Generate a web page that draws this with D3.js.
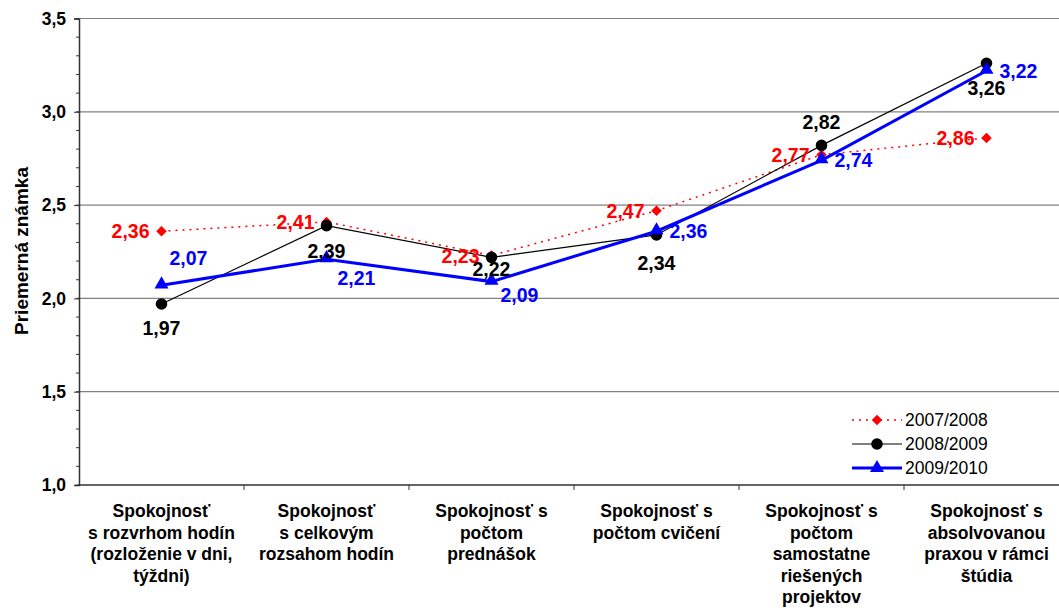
<!DOCTYPE html>
<html>
<head>
<meta charset="utf-8">
<script src="https://cdn.jsdelivr.net/npm/d3@7"></script>
<style>
  body { margin: 0; background: #fff; }
  svg { display: block; font-family: "Liberation Sans", Arial, sans-serif; }
</style>
</head>
<body>
<div id="vizArea"></div>
<script>
// data
const categories = [
  "Spokojnosť\ns rozvrhom hodín\n(rozloženie v dni,\ntýždni)",
  "Spokojnosť\ns celkovým\nrozsahom hodín",
  "Spokojnosť s\npočtom\nprednášok",
  "Spokojnosť s\npočtom cvičení",
  "Spokojnosť s\npočtom\nsamostatne\nriešených\nprojektov",
  "Spokojnosť s\nabsolvovanou\npraxou v rámci\nštúdia"
]
const seriesNames = ["2007/2008", "2008/2009", "2009/2010"]
const values2007 = [2.36, 2.41, 2.23, 2.47, 2.77, 2.86]
const values2008 = [1.97, 2.39, 2.22, 2.34, 2.82, 3.26]
const values2009 = [2.07, 2.21, 2.09, 2.36, 2.74, 3.22]
const yTicks = [1.0, 1.5, 2.0, 2.5, 3.0, 3.5]

// label placement (pixels from the point), not data
const off2007 = [[-12, 0], [-12, 0], [-12, 0], [-12, 0], [-12, 0], [-12, 0]]
const off2008 = [[0, 24], [0, 25], [0, 12], [0, 28], [0, -23], [0, 25]]
const off2009 = [[27, -27], [30, 19], [28, 13], [13, 0], [13, 0], [13, 0]]

const W = 1059, H = 608
const mLeft = 79, mTop = 18.5, mBottom = 485
const bandW = 165

const svg = d3.select("#vizArea").append("svg")
  .attr("width", W).attr("height", H)

const x = d3.scaleBand().domain(categories).range([mLeft, mLeft + bandW * categories.length])
const y = d3.scaleLinear().domain([1, 3.5]).range([mBottom, mTop])
const cx = d => x(d) + x.bandwidth() / 2
const fmt = v => d3.format(".2f")(v).replace(".", ",")

// gridlines
svg.append("g").selectAll("line")
  .data(yTicks.filter(t => t > 1))
  .enter().append("line")
  .attr("x1", mLeft).attr("x2", W)
  .attr("y1", d => y(d)).attr("y2", d => y(d))
  .attr("stroke", "#808080").attr("stroke-width", 1.2)

// y axis with minor ticks
const minor = d3.range(10, 36).map(d => d / 10)
svg.append("g").selectAll("line")
  .data(minor)
  .enter().append("line")
  .attr("x1", mLeft - 3).attr("x2", mLeft)
  .attr("y1", d => y(d)).attr("y2", d => y(d))
  .attr("stroke", "#333")

const yAxis = svg.append("g")
  .attr("transform", `translate(${mLeft},0)`)
  .call(d3.axisLeft(y).tickValues(yTicks).tickSize(5).tickFormat(d => d3.format(".1f")(d).replace(".", ",")))
yAxis.select(".domain").attr("stroke", "#333").attr("stroke-width", 1.5)
yAxis.selectAll(".tick line").attr("stroke", "#333")
yAxis.selectAll("text")
  .attr("font-size", 17.5).attr("font-weight", "bold").attr("fill", "#000")
  .attr("x", -13).attr("font-family", "Liberation Sans, Arial, sans-serif")

svg.append("text")
  .attr("transform", `translate(28,251) rotate(-90)`)
  .attr("text-anchor", "middle")
  .attr("font-size", 19).attr("font-weight", "bold")
  .text("Priemerná známka")

// x axis
svg.append("line")
  .attr("x1", mLeft).attr("x2", W)
  .attr("y1", mBottom).attr("y2", mBottom)
  .attr("stroke", "#333").attr("stroke-width", 1.5)

svg.append("g").selectAll("line")
  .data(categories.slice(1))
  .enter().append("line")
  .attr("x1", d => x(d)).attr("x2", d => x(d))
  .attr("y1", mBottom).attr("y2", mBottom + 5)
  .attr("stroke", "#333")

const catLabels = svg.append("g").selectAll("text")
  .data(categories)
  .enter().append("text")
  .attr("text-anchor", "middle")
  .attr("font-size", 17.5).attr("font-weight", "bold")
  .attr("x", d => cx(d))
  .attr("y", 517)
catLabels.selectAll("tspan")
  .data(d => d.split("\n").map(t => ({ t, c: d })))
  .enter().append("tspan")
  .attr("x", d => cx(d.c))
  .attr("dy", (d, i) => i === 0 ? 0 : 21.5)
  .text(d => d.t)

// series
const series = [
  { name: seriesNames[0], vals: values2007, color: "#ff0000", width: 1.5, dash: "2,5", shape: d3.symbolDiamond2, size: 70, off: off2007, anchor: "end" },
  { name: seriesNames[1], vals: values2008, color: "#000000", width: 1.2, dash: null, shape: d3.symbolCircle, size: 105, off: off2008, anchor: "middle" },
  { name: seriesNames[2], vals: values2009, color: "#0000ff", width: 3, dash: null, shape: d3.symbolTriangle, size: 85, off: off2009, anchor: null }
]

const line = d3.line().x(d => cx(d.c)).y(d => y(d.v))

series.forEach(s => {
  const pts = categories.map((c, i) => ({ c, v: s.vals[i], i }))
  svg.append("path")
    .datum(pts)
    .attr("d", line)
    .attr("fill", "none")
    .attr("stroke", s.color)
    .attr("stroke-width", s.width)
    .attr("stroke-dasharray", s.dash)
  svg.append("g").selectAll("path")
    .data(pts)
    .enter().append("path")
    .attr("d", d3.symbol().type(s.shape).size(s.size))
    .attr("transform", d => `translate(${cx(d.c)},${y(d.v) - (s.shape === d3.symbolTriangle ? 1 : 0)})`)
    .attr("fill", s.color)
})

series.forEach(s => {
  const pts = categories.map((c, i) => ({ c, v: s.vals[i], i }))
  svg.append("g").selectAll("text")
    .data(pts)
    .enter().append("text")
    .attr("x", d => cx(d.c) + s.off[d.i][0])
    .attr("y", d => y(d.v) + s.off[d.i][1])
    .attr("dy", "0.36em")
    .attr("text-anchor", d => s.anchor || (d.i < 3 ? "middle" : "start"))
    .attr("font-size", 19.5).attr("font-weight", "bold")
    .attr("fill", s.color)
    .text(d => fmt(d.v))
})

// legend
const lg = svg.append("g")
lg.append("rect").attr("x", 845).attr("y", 402).attr("width", 214).attr("height", 80).attr("fill", "#fff")
series.forEach((s, i) => {
  const ly = 420 + i * 24
  lg.append("line")
    .attr("x1", 852).attr("x2", 902).attr("y1", ly).attr("y2", ly)
    .attr("stroke", s.color).attr("stroke-width", s.width)
    .attr("stroke-dasharray", s.dash)
  lg.append("path")
    .attr("d", d3.symbol().type(s.shape).size(s.size))
    .attr("transform", `translate(877,${ly})`)
    .attr("fill", s.color)
  lg.append("text")
    .attr("x", 905).attr("y", ly).attr("dy", "0.36em")
    .attr("font-size", 17.5)
    .text(s.name)
})
</script>
</body>
</html>
